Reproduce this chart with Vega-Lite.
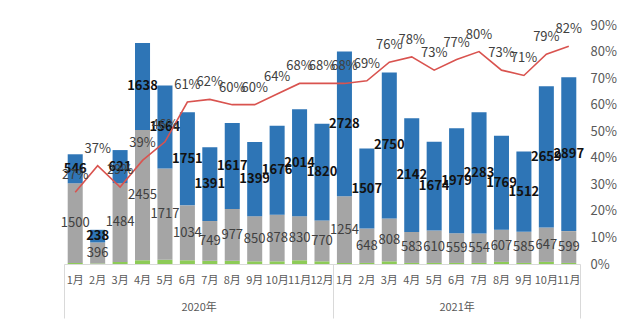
{
  "$schema": "https://vega.github.io/schema/vega-lite/v6.json",
  "width": 516,
  "height": 239,
  "autosize": {"type": "none"},
  "padding": {"left": 64, "top": 25, "right": 60, "bottom": 66},
  "background": "white",
  "config": {
    "font": "Noto Sans CJK SC",
    "view": {"stroke": null},
    "axis": {"labelColor": "#595959", "labelFontSize": 13, "title": null, "ticks": false, "domain": false, "grid": false}
  },
  "datasets": {
    "m": [
      {"k": "2020-01", "green": 20, "gray": 1500, "blue": 546, "p": 0.27},
      {"k": "2020-02", "green": 10, "gray": 396, "blue": 238, "p": 0.37},
      {"k": "2020-03", "green": 40, "gray": 1484, "blue": 621, "p": 0.29},
      {"k": "2020-04", "green": 70, "gray": 2455, "blue": 1638, "p": 0.39},
      {"k": "2020-05", "green": 80, "gray": 1717, "blue": 1564, "p": 0.46},
      {"k": "2020-06", "green": 70, "gray": 1034, "blue": 1751, "p": 0.61},
      {"k": "2020-07", "green": 60, "gray": 749, "blue": 1391, "p": 0.62},
      {"k": "2020-08", "green": 60, "gray": 977, "blue": 1617, "p": 0.60},
      {"k": "2020-09", "green": 50, "gray": 850, "blue": 1399, "p": 0.60},
      {"k": "2020-10", "green": 50, "gray": 878, "blue": 1676, "p": 0.64},
      {"k": "2020-11", "green": 70, "gray": 830, "blue": 2014, "p": 0.68},
      {"k": "2020-12", "green": 50, "gray": 770, "blue": 1820, "p": 0.68},
      {"k": "2021-01", "green": 20, "gray": 1254, "blue": 2728, "p": 0.68},
      {"k": "2021-02", "green": 20, "gray": 648, "blue": 1507, "p": 0.69},
      {"k": "2021-03", "green": 50, "gray": 808, "blue": 2750, "p": 0.76},
      {"k": "2021-04", "green": 20, "gray": 583, "blue": 2142, "p": 0.78},
      {"k": "2021-05", "green": 20, "gray": 610, "blue": 1674, "p": 0.73},
      {"k": "2021-06", "green": 20, "gray": 559, "blue": 1979, "p": 0.77},
      {"k": "2021-07", "green": 20, "gray": 554, "blue": 2283, "p": 0.80},
      {"k": "2021-08", "green": 40, "gray": 607, "blue": 1769, "p": 0.73},
      {"k": "2021-09", "green": 20, "gray": 585, "blue": 1512, "p": 0.71},
      {"k": "2021-10", "green": 40, "gray": 647, "blue": 2659, "p": 0.79},
      {"k": "2021-11", "green": 20, "gray": 599, "blue": 2897, "p": 0.82}
    ],
    "yr": [{"pos": 6}, {"pos": 17.5}],
    "sep": [{"pos": 0}, {"pos": 12}, {"pos": 23}]
  },
  "layer": [
    {
      "data": {"name": "m"},
      "layer": [
        {
          "transform": [{"fold": ["green", "gray", "blue"], "as": ["key", "value"]}],
          "encoding": {
            "x": {
              "field": "k", "type": "ordinal",
              "scale": {"paddingInner": 0.33, "paddingOuter": 0.165},
              "axis": {"labelExpr": "toNumber(slice(datum.value, 5)) + '月'", "labelAngle": 0, "labelFontSize": 11, "labelPadding": 10, "domain": true, "domainColor": "#D9D9D9"}
            },
            "y": {"field": "value", "type": "quantitative", "stack": "zero", "scale": {"domain": [0, 4500]}},
            "order": {"field": "key", "sort": "descending"}
          },
          "layer": [
            {
              "mark": {"type": "bar"},
              "encoding": {
                "y": {"field": "value", "type": "quantitative", "stack": "zero", "scale": {"domain": [0, 4500]},
                  "axis": {"values": [0, 500, 1000, 1500, 2000, 2500, 3000, 3500, 4000, 4500], "grid": true, "gridColor": "#D9D9D9", "labelPadding": 14}},
                "color": {"field": "key", "type": "nominal", "scale": {"domain": ["green", "gray", "blue"], "range": ["#8DCB57", "#A5A5A5", "#2E75B6"]}, "legend": null}
              }
            },
            {
              "mark": {"type": "text", "fontSize": 13, "color": "#404040"},
              "encoding": {
                "y": {"field": "value", "type": "quantitative", "stack": "zero", "bandPosition": 0.5, "axis": null},
                "detail": {"field": "key"},
                "text": {"condition": {"test": "datum.key !== 'gray'", "value": ""}, "field": "value", "type": "quantitative"}
              }
            },
            {
              "mark": {"type": "text", "fontSize": 13, "fontWeight": "bold", "color": "#111111"},
              "encoding": {
                "y": {"field": "value", "type": "quantitative", "stack": "zero", "bandPosition": 0.5, "axis": null},
                "detail": {"field": "key"},
                "text": {"condition": {"test": "datum.key !== 'blue'", "value": ""}, "field": "value", "type": "quantitative"}
              }
            }
          ]
        },
        {
          "encoding": {
            "x": {"field": "k", "type": "ordinal"},
            "y": {"field": "p", "type": "quantitative", "scale": {"domain": [0, 0.9]},
              "axis": {"orient": "right", "format": ".0%", "values": [0, 0.1, 0.2, 0.3, 0.4, 0.5, 0.6, 0.7, 0.8, 0.9], "labelPadding": 10}}
          },
          "layer": [
            {"mark": {"type": "line", "color": "#D9534F", "strokeWidth": 1.6}},
            {
              "mark": {"type": "text", "fontSize": 13, "color": "#404040", "baseline": "bottom", "dy": -10},
              "encoding": {"text": {"field": "p", "type": "quantitative", "format": ".0%"}}
            }
          ]
        }
      ],
      "resolve": {"scale": {"y": "independent"}}
    },
    {
      "data": {"name": "yr"},
      "mark": {"type": "point", "opacity": 0},
      "encoding": {
        "x": {"field": "pos", "type": "quantitative", "scale": {"domain": [0, 23], "nice": false, "zero": false},
          "axis": {"orient": "bottom", "values": [6, 17.5], "labelExpr": "datum.value < 12 ? '2020年' : '2021年'", "labelFontSize": 11, "labelPadding": 37, "labelFlush": false}}
      }
    },
    {
      "data": {"name": "sep"},
      "mark": {"type": "point", "opacity": 0},
      "encoding": {
        "x": {"field": "pos", "type": "quantitative", "scale": {"domain": [0, 23], "nice": false, "zero": false},
          "axis": {"orient": "bottom", "values": [0, 12, 23], "labels": false, "ticks": true, "tickSize": 54, "tickColor": "#D9D9D9", "tickWidth": 1}}
      }
    }
  ],
  "resolve": {"scale": {"x": "independent"}}
}
